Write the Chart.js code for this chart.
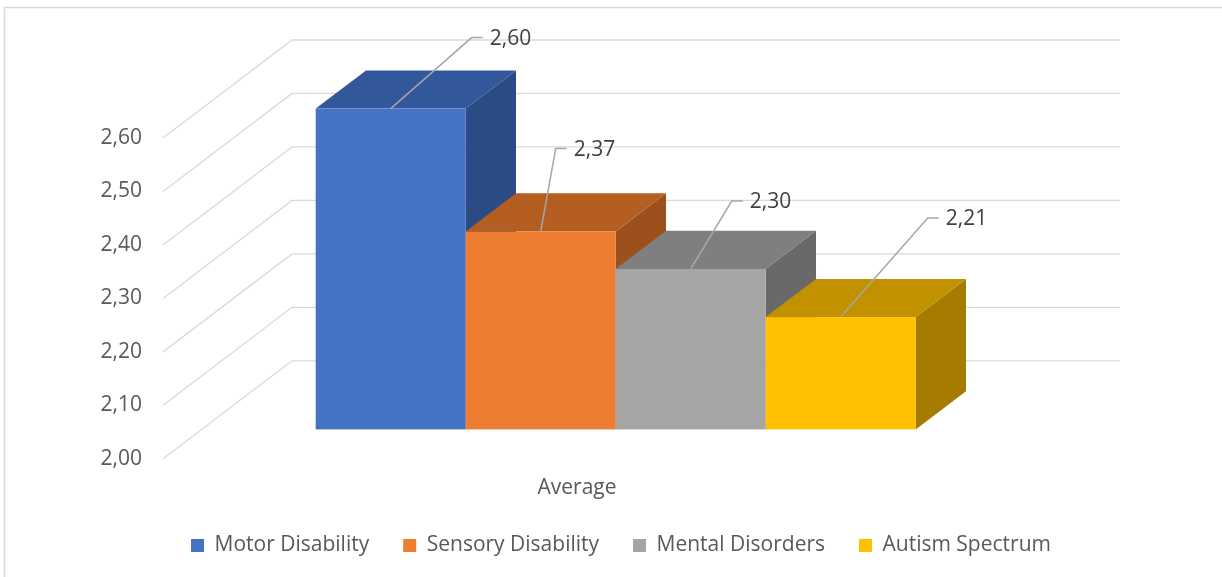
<!DOCTYPE html>
<html>
<head>
<meta charset="utf-8">
<script src="https://cdn.jsdelivr.net/npm/chart.js"></script>
<style>
  html, body { margin: 0; padding: 0; background: #fff; }
  #wrap { position: relative; width: 1222px; height: 577px; }
</style>
</head>
<body>
<div id="wrap"><canvas id="chart" width="1222" height="577"></canvas></div>
<script>
// data
const categories = ['Average'];
const seriesNames = ['Motor Disability', 'Sensory Disability', 'Mental Disorders', 'Autism Spectrum'];
const seriesValues = [2.60, 2.37, 2.30, 2.21];
const yMin = 2.00;
const yMax = 2.60;
const yStep = 0.10;

// colours: front face, top face, side face
const frontColors = ['#4472C4', '#ED7D31', '#A5A5A5', '#FFC000'];
const topColors = ['#32589B', '#B45E22', '#7F7F7F', '#C29100'];
const sideColors = ['#2B4B85', '#9C511C', '#696969', '#A67C00'];

// where each value label sits, relative to its bar's top edge
const labelOffsets = [[81, -71], [15, -83], [41, -68], [87, -99]];

const FONT = '"Open Sans", "DejaVu Sans", sans-serif';
const fmt = v => v.toFixed(2).replace('.', ',');

// fake 3D: wall depth and where the bars sit inside it
const WALL = { x: 129, y: -98 };
const BAR_FRONT = 0.30;
const BAR_BACK = 0.69;

function poly(ctx, pts, color) {
    ctx.beginPath();
    ctx.moveTo(pts[0][0], pts[0][1]);
    for (let i = 1; i < pts.length; i++) ctx.lineTo(pts[i][0], pts[i][1]);
    ctx.closePath();
    ctx.fillStyle = color;
    ctx.fill();
}

const depth3d = {
    id: 'depth3d',
    beforeDraw(chart) {
        const ctx = chart.ctx;
        ctx.save();
        ctx.strokeStyle = '#d9d9d9';
        ctx.lineWidth = 1.5;
        ctx.strokeRect(4.5, 7.5, 1240, 600);
        ctx.restore();
    },
    beforeDatasetsDraw(chart) {
        const { ctx, chartArea: a, scales: { y } } = chart;
        ctx.save();
        ctx.strokeStyle = '#d9d9d9';
        ctx.lineWidth = 1.3;
        y.ticks.forEach(t => {
            const py = y.getPixelForValue(t.value);
            ctx.beginPath();
            ctx.moveTo(a.left, py);
            ctx.lineTo(a.left + WALL.x, py + WALL.y);
            ctx.lineTo(a.right + WALL.x, py + WALL.y);
            ctx.stroke();
        });
        ctx.restore();
    },
    afterDatasetsDraw(chart) {
        const ctx = chart.ctx;
        const yScale = chart.scales.y;
        const fx = WALL.x * BAR_FRONT, fy = WALL.y * BAR_FRONT;
        const dx = WALL.x * (BAR_BACK - BAR_FRONT), dy = WALL.y * (BAR_BACK - BAR_FRONT);
        const tops = [];
        ctx.save();
        chart.data.datasets.forEach((ds, i) => {
            const bar = chart.getDatasetMeta(i).data[0];
            const { x, y, width } = bar.getProps(['x', 'y', 'width'], true);
            const base = yScale.getPixelForValue(yMin);
            const l = x - width / 2 + fx, r = x + width / 2 + fx;
            const t = y + fy, b = base + fy;
            poly(ctx, [[r, t], [r + dx, t + dy], [r + dx, b + dy], [r, b]], sideColors[i]);
            poly(ctx, [[l, t], [l + dx, t + dy], [r + dx, t + dy], [r, t]], topColors[i]);
            ctx.fillStyle = frontColors[i];
            ctx.fillRect(l, t, r - l, b - t);
            tops.push([x + fx, t, ds.data[0]]);
        });
        // value labels with leader lines
        ctx.strokeStyle = '#a6a6a6';
        ctx.lineWidth = 1.5;
        ctx.fillStyle = '#404040';
        ctx.font = '21px ' + FONT;
        ctx.textAlign = 'left';
        ctx.textBaseline = 'middle';
        tops.forEach(([cx, cy, v], i) => {
            const ex = cx + labelOffsets[i][0], ey = cy + labelOffsets[i][1];
            ctx.beginPath();
            ctx.moveTo(cx, cy);
            ctx.lineTo(ex, ey);
            ctx.lineTo(ex + 11, ey);
            ctx.stroke();
            ctx.fillText(fmt(v), ex + 18, ey + 1);
        });
        ctx.restore();
    }
};

const datasets = seriesNames.map((name, i) => ({
    label: name,
    data: [seriesValues[i]],
    base: yMin,
    backgroundColor: 'rgba(0,0,0,0)',
    borderWidth: 0,
    categoryPercentage: 600 / 828,
    barPercentage: 1.0
}));

new Chart(document.getElementById('chart').getContext('2d'), {
    type: 'bar',
    data: { labels: categories, datasets: datasets },
    plugins: [depth3d],
    options: {
        responsive: false,
        animation: false,
        events: [],
        layout: { padding: { top: 138, left: 20, right: 0, bottom: 11 } },
        plugins: {
            tooltip: { enabled: false },
            legend: {
                position: 'bottom',
                labels: {
                    // legend boxes use the front-face colours
                    generateLabels: chart => seriesNames.map((name, i) => ({
                        text: name,
                        fillStyle: frontColors[i],
                        strokeStyle: frontColors[i],
                        lineWidth: 0,
                        fontColor: '#595959',
                        datasetIndex: i
                    })),
                    boxWidth: 13,
                    boxHeight: 13,
                    padding: 34,
                    color: '#595959',
                    font: { family: FONT, size: 21 }
                }
            }
        },
        scales: {
            x: {
                grid: { display: false, drawTicks: false },
                border: { display: false },
                ticks: { display: false },
                title: {
                    display: true,
                    text: 'Average',
                    color: '#595959',
                    font: { family: FONT, size: 21 },
                    padding: { top: 17, bottom: 0 }
                }
            },
            y: {
                min: yMin,
                max: yMax,
                grid: { display: false, drawTicks: false },
                border: { display: false },
                ticks: {
                    stepSize: yStep,
                    padding: 21,
                    color: '#595959',
                    font: { family: FONT, size: 21 },
                    callback: v => fmt(v)
                },
                afterFit: s => { s.width = 143; }
            },
            yRight: {
                type: 'linear',
                position: 'right',
                grid: { display: false, drawTicks: false },
                border: { display: false },
                ticks: { display: false },
                afterFit: s => { s.width = 231; }
            }
        }
    }
});
</script>
</body>
</html>
